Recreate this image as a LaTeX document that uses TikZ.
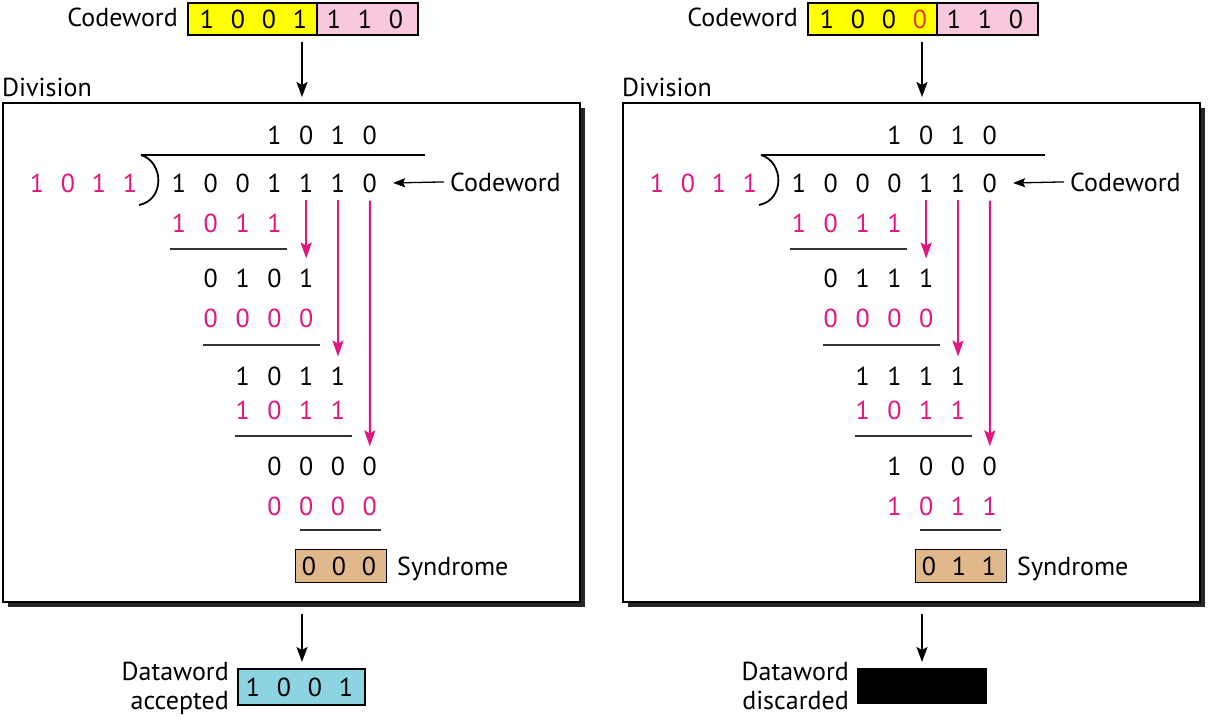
\documentclass[tikz,border=0pt]{standalone}
\usepackage{fontspec}
\setmainfont{PT Sans}
\usetikzlibrary{arrows.meta,shadows}
\definecolor{pk}{RGB}{228,20,128}
\definecolor{ylw}{RGB}{255,255,0}
\definecolor{pinkbox}{RGB}{248,200,222}
\definecolor{tanbox}{RGB}{224,184,140}
\definecolor{blu}{RGB}{140,212,226}
\definecolor{errred}{RGB}{232,60,30}
\newcommand\fs{\fontsize{26}{29}\selectfont}
\newcommand\drow[6]{\foreach \d [count=\i] in {#6}{\node[dig,text=#5] (#1\i) at ({#2+(\i-1)*#4},#3) {\d};}}
\begin{document}
\begin{tikzpicture}[x=1pt,y=-1pt,
 dig/.style={inner sep=0pt,font=\fs},
 lbl/.style={inner sep=0pt,font=\fs},
 cbox/.style={draw=black,line width=1.2pt,inner sep=0pt},
 barr/.style={line width=1.8pt,-{Stealth[length=15pt,width=11pt,inset=3pt]}},
 parr/.style={draw=pk,line width=2pt,-{Stealth[length=16pt,width=11pt,inset=3pt]}},
 carr/.style={line width=1.3pt,-{Stealth[length=12pt,width=9pt,inset=2pt]}},
 rulel/.style={line width=1.6pt,draw=black!80},
 panel/.style={draw=black,line width=1.5pt,fill=white,inner sep=0pt,minimum width=577pt,minimum height=499pt,
   drop shadow={shadow xshift=4.5pt,shadow yshift=-4.5pt,fill=black!85,opacity=1}}]
\useasboundingbox (0,0) rectangle (1217,717);

% ================= LEFT =================
\node[lbl,anchor=base east] (Lcwtop) at (178,27) {Codeword};
\node[cbox,fill=ylw,minimum width=129pt,minimum height=32pt] (Ly) at (252.5,19) {};
\node[cbox,fill=pinkbox,minimum width=101pt,minimum height=32pt] (Lp) at (367.5,19) {};
\drow{Lt}{207}{19}{31}{black}{1,0,0,1}
\drow{Lu}{334}{19}{31}{black}{1,1,0}
\coordinate (La1) at (302,42);
\coordinate (La2) at (302,97);
\draw[barr] (La1) -- (La2);
\node[lbl,anchor=base west] (Ldiv) at (2,96) {Division};
\node[panel] (Lpanel) at (291.5,352.5) {};

\drow{Lq}{274.4}{135}{31.8}{black}{1,0,1,0}
\draw[line width=1.8pt] (141,155) -- (425,155);
\draw[line width=1.8pt] (141,155) .. controls (164,162) and (165,200) .. (139,205);
\drow{Lv}{37}{183}{31}{pk}{1,0,1,1}
\drow{Ld}{179}{183}{31.8}{black}{1,0,0,1,1,1,0}
\node[lbl,anchor=base west] (Lcw) at (450,191) {Codeword};
\draw[carr] ([xshift=-6pt]Lcw.west) -- ([xshift=16pt]Ld7.east);

\drow{Lra}{179}{223}{31.8}{pk}{1,0,1,1}
\draw[rulel] (170,249) -- (287,249);
\drow{Lrb}{210.8}{278}{31.8}{black}{0,1,0,1}
\drow{Lrc}{210.8}{318}{31.8}{pk}{0,0,0,0}
\draw[rulel] (203,345) -- (320,345);
\drow{Lrd}{242.6}{376}{31.8}{black}{1,0,1,1}
\drow{Lre}{242.6}{410}{31.8}{pk}{1,0,1,1}
\draw[rulel] (235,436) -- (352,436);
\drow{Lrf}{274.4}{466}{31.8}{black}{0,0,0,0}
\drow{Lrg}{274.4}{506}{31.8}{pk}{0,0,0,0}
\draw[rulel] (300,530) -- (381,530);

\draw[parr] ([yshift=-8pt]Ld5.south) -- ([yshift=10pt]Lrb4.north);
\draw[parr] ([yshift=-8pt]Ld6.south) -- ([yshift=10pt]Lrd4.north);
\draw[parr] ([yshift=-8pt]Ld7.south) -- ([yshift=10pt]Lrf4.north);

\node[cbox,fill=tanbox,minimum width=91pt,minimum height=33pt] (Lsb) at (341,566) {};
\drow{Ls}{309}{566}{30}{black}{0,0,0}
\node[lbl,anchor=base west] (Lsl) at (397,575) {Syndrome};

\coordinate (Lb1) at (302,614);
\coordinate (Lb2) at (302,662);
\draw[barr] (Lb1) -- (Lb2);
\node[lbl,anchor=base east] (Ldl1) at (229,680) {Dataword};
\node[lbl,anchor=base east] (Ldl2) at (229,709) {accepted};
\node[cbox,fill=blu,minimum width=127pt,minimum height=36pt] (Ldb) at (301.5,687) {};
\drow{Lw}{253}{687}{31}{black}{1,0,0,1}

% ================= RIGHT =================
\begin{scope}[xshift=620pt]
\node[lbl,anchor=base east] (Rcwtop) at (178,27) {Codeword};
\node[cbox,fill=ylw,minimum width=129pt,minimum height=32pt] (Ry) at (252.5,19) {};
\node[cbox,fill=pinkbox,minimum width=101pt,minimum height=32pt] (Rp) at (367.5,19) {};
\drow{Rt}{207}{19}{31}{black}{1,0,0}
\node[dig,text=errred] (Rt4) at (300,19) {0};
\drow{Ru}{334}{19}{31}{black}{1,1,0}
\coordinate (Ra1) at (302,42);
\coordinate (Ra2) at (302,97);
\draw[barr] (Ra1) -- (Ra2);
\node[lbl,anchor=base west] (Rdiv) at (2,96) {Division};
\node[panel] (Rpanel) at (291.5,352.5) {};

\drow{Rq}{274.4}{135}{31.8}{black}{1,0,1,0}
\draw[line width=1.8pt] (141,155) -- (425,155);
\draw[line width=1.8pt] (141,155) .. controls (164,162) and (165,200) .. (139,205);
\drow{Rv}{37}{183}{31}{pk}{1,0,1,1}
\drow{Rd}{179}{183}{31.8}{black}{1,0,0,0,1,1,0}
\node[lbl,anchor=base west] (Rcw) at (450,191) {Codeword};
\draw[carr] ([xshift=-6pt]Rcw.west) -- ([xshift=16pt]Rd7.east);

\drow{Rra}{179}{223}{31.8}{pk}{1,0,1,1}
\draw[rulel] (170,249) -- (287,249);
\drow{Rrb}{210.8}{278}{31.8}{black}{0,1,1,1}
\drow{Rrc}{210.8}{318}{31.8}{pk}{0,0,0,0}
\draw[rulel] (203,345) -- (320,345);
\drow{Rrd}{242.6}{376}{31.8}{black}{1,1,1,1}
\drow{Rre}{242.6}{410}{31.8}{pk}{1,0,1,1}
\draw[rulel] (235,436) -- (352,436);
\drow{Rrf}{274.4}{466}{31.8}{black}{1,0,0,0}
\drow{Rrg}{274.4}{506}{31.8}{pk}{1,0,1,1}
\draw[rulel] (300,530) -- (381,530);

\draw[parr] ([yshift=-8pt]Rd5.south) -- ([yshift=10pt]Rrb4.north);
\draw[parr] ([yshift=-8pt]Rd6.south) -- ([yshift=10pt]Rrd4.north);
\draw[parr] ([yshift=-8pt]Rd7.south) -- ([yshift=10pt]Rrf4.north);

\node[cbox,fill=tanbox,minimum width=91pt,minimum height=33pt] (Rsb) at (341,566) {};
\drow{Rs}{309}{566}{30}{black}{0,1,1}
\node[lbl,anchor=base west] (Rsl) at (397,575) {Syndrome};

\coordinate (Rb1) at (302,614);
\coordinate (Rb2) at (302,662);
\draw[barr] (Rb1) -- (Rb2);
\node[lbl,anchor=base east] (Rdl1) at (229,680) {Dataword};
\node[lbl,anchor=base east] (Rdl2) at (229,709) {discarded};
\node[cbox,fill=black,minimum width=128pt,minimum height=35pt] (Rdb) at (302,686) {};
\end{scope}
\end{tikzpicture}
\end{document}
